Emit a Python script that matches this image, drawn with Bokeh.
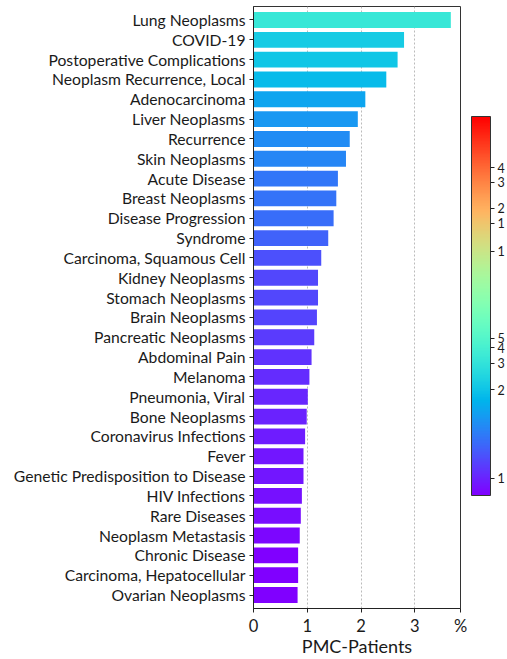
import math
from bokeh.plotting import figure
from bokeh.models import (ColumnDataSource, FactorRange, Range1d, FixedTicker,
                          ColorBar, LinearColorMapper, LogColorMapper, AllLabels)
from bokeh.transform import transform
from bokeh.embed import file_html
from bokeh.resources import INLINE

categories = [
    "Lung Neoplasms", "COVID-19", "Postoperative Complications",
    "Neoplasm Recurrence, Local", "Adenocarcinoma", "Liver Neoplasms",
    "Recurrence", "Skin Neoplasms", "Acute Disease", "Breast Neoplasms",
    "Disease Progression", "Syndrome", "Carcinoma, Squamous Cell",
    "Kidney Neoplasms", "Stomach Neoplasms", "Brain Neoplasms",
    "Pancreatic Neoplasms", "Abdominal Pain", "Melanoma", "Pneumonia, Viral",
    "Bone Neoplasms", "Coronavirus Infections", "Fever",
    "Genetic Predisposition to Disease", "HIV Infections", "Rare Diseases",
    "Neoplasm Metastasis", "Chronic Disease", "Carcinoma, Hepatocellular",
    "Ovarian Neoplasms",
]
percent = [
    3.67, 2.80, 2.68, 2.47, 2.08, 1.94,
    1.79, 1.72, 1.57, 1.54,
    1.49, 1.39, 1.26,
    1.20, 1.20, 1.18,
    1.13, 1.08, 1.04, 1.01,
    0.99, 0.96, 0.93,
    0.93, 0.90, 0.88,
    0.86, 0.83, 0.83,
    0.82,
]
x_ticks = [0, 1, 2, 3]
x_max = 3.85
x_unit_label = "%"
x_title = "PMC-Patients"

# colour scale (log normalisation of the bar values)
color_low = 0.82
color_high = 53.0

# colour bar ticks (fraction of bar height) and their visible labels
cbar_tick_pos = [0.0456, 0.2786, 0.349, 0.3905, 0.415, 0.644, 0.7185, 0.758, 0.826, 0.865]
cbar_tick_labels = ["1", "2", "3", "4", "5", "1", "1", "2", "3", "4"]


def rainbow(x):
    r = min(1.0, abs(2 * x - 0.5))
    g = math.sin(math.pi * x)
    b = math.cos(math.pi * x / 2)
    return "#%02x%02x%02x" % (round(r * 255), round(g * 255), round(b * 255))


palette = [rainbow(i / 255) for i in range(256)]

FONT = "Lato"
TXT = "#1a1a1a"

source = ColumnDataSource(dict(cat=categories, value=percent))

p = figure(width=507, height=659,
           y_range=FactorRange(factors=list(reversed(categories)),
                               range_padding=0.18, range_padding_units="absolute"),
           x_range=Range1d(0, x_max),
           output_backend="svg", toolbar_location=None,
           min_border_left=253, min_border_right=47, min_border_top=6,
           min_border_bottom=0)

mapper = LogColorMapper(palette=palette, low=color_low, high=color_high)
p.hbar(y="cat", right="value", left=0, height=0.8, source=source,
       fill_color=transform("value", mapper), line_color=None)

p.outline_line_color = "#333333"
p.outline_line_width = 1
p.background_fill_color = "white"
p.border_fill_color = "white"

p.ygrid.grid_line_color = None
p.xgrid.grid_line_color = "#bbbbbb"
p.xgrid.grid_line_dash = "2 2"
p.xgrid.grid_line_width = 1

xa = p.xaxis[0]
xa.ticker = FixedTicker(ticks=x_ticks + [x_max])
xa.major_label_overrides = {x_max: x_unit_label}
xa.axis_label = x_title
xa.axis_label_text_font = FONT
xa.axis_label_text_font_style = "normal"
xa.axis_label_text_font_size = "18px"
xa.axis_label_text_color = TXT
xa.axis_label_standoff = -4
xa.major_label_text_font = FONT
xa.major_label_text_font_size = "16.5px"
xa.major_label_text_color = TXT
xa.major_label_standoff = 3
xa.major_tick_in = 0
xa.major_tick_out = 4
xa.minor_tick_line_color = None
xa.axis_line_color = "#222222"
xa.major_tick_line_color = "#222222"

ya = p.yaxis[0]
ya.major_label_text_font = FONT
ya.major_label_text_font_size = "15.7px"
ya.major_label_text_color = TXT
ya.major_label_standoff = 4
ya.major_tick_in = 0
ya.major_tick_out = 4
ya.axis_line_color = "#222222"
ya.major_tick_line_color = "#222222"

cbar_mapper = LinearColorMapper(palette=palette, low=0, high=1)
color_bar = ColorBar(color_mapper=cbar_mapper,
                     ticker=FixedTicker(ticks=cbar_tick_pos),
                     major_label_overrides=dict(zip(cbar_tick_pos, cbar_tick_labels)),
                     major_label_policy=AllLabels(),
                     width=19, height=379, padding=0, margin=0,
                     location=(11, 113),
                     major_tick_in=0, major_tick_out=4,
                     major_tick_line_color="#222222",
                     bar_line_color="#333333",
                     major_label_text_font=FONT,
                     major_label_text_font_size="12.5px",
                     major_label_text_color=TXT,
                     label_standoff=3,
                     background_fill_alpha=0,
                     border_line_color=None)
p.add_layout(color_bar, "right")

open("out.html", "w").write(file_html(p, INLINE))
